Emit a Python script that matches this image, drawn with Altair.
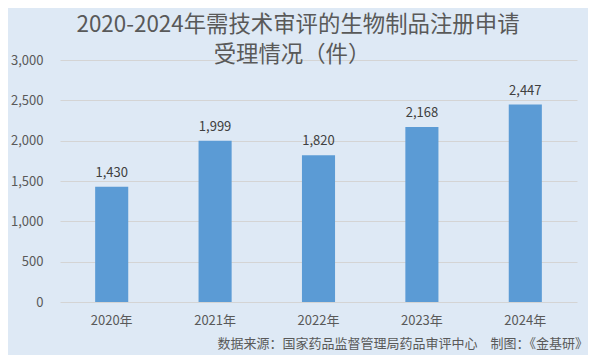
import altair as alt
import pandas as pd

years = ["2020年", "2021年", "2022年", "2023年", "2024年"]
values = [1430, 1999, 1820, 2168, 2447]
title_lines = ["2020-2024年需技术审评的生物制品注册申请", "受理情况（件）"]
source_text = "数据来源：国家药品监督管理局药品审评中心\u3000制图：《金基研》"

df = pd.DataFrame({"year": years, "value": values})
one = pd.DataFrame({"k": [0]})
FONT = "Noto Sans CJK SC"

base = alt.Chart(df).encode(
    x=alt.X("year:N", sort=years,
            scale=alt.Scale(paddingInner=0.68, paddingOuter=0.34),
            axis=alt.Axis(title=None, labelAngle=0, labelFontSize=13, labelColor="#595959",
                          labelFont=FONT, labelFontWeight="normal", domain=False, ticks=False,
                          labelPadding=12)),
    y=alt.Y("value:Q", scale=alt.Scale(domain=[0, 3000], nice=False),
            axis=alt.Axis(title=None, values=[0, 500, 1000, 1500, 2000, 2500, 3000],
                          format=",.0f", labelFontSize=13, labelColor="#595959", labelFont=FONT,
                          labelFontWeight="normal", domain=False, ticks=False, labelPadding=17,
                          gridColor="#d4d4d4", gridWidth=1)),
)

bars = base.mark_bar(color="#5b9bd5")
labels = base.mark_text(dy=-14, fontSize=13, color="#404040", font=FONT).encode(
    text=alt.Text("value:Q", format=",.0f"))

source = alt.Chart(one).mark_text(align="right", baseline="middle", fontSize=13,
                                  color="#595959", font=FONT).encode(
    x=alt.value(528), y=alt.value(284), text=alt.datum(source_text))

title1 = alt.Chart(one).mark_text(align="center", baseline="middle", fontSize=22.4,
                                  color="#595959", font=FONT).encode(
    x=alt.value(238), y=alt.value(-35), text=alt.datum(title_lines[0]))
title2 = alt.Chart(one).mark_text(align="center", baseline="middle", fontSize=22.4,
                                  color="#595959", font=FONT).encode(
    x=alt.value(232), y=alt.value(-5), text=alt.datum(title_lines[1]))

chart = alt.layer(bars, labels, source, title1, title2).properties(
    width=517, height=242,
    autosize=alt.AutoSizeParams(type="none"),
    padding={"left": 52, "top": 52, "right": 11, "bottom": 60},
    background="#dee9f5",
).configure_view(stroke=None)

chart.save("out.html", embed_options={"renderer": "svg", "actions": False})
